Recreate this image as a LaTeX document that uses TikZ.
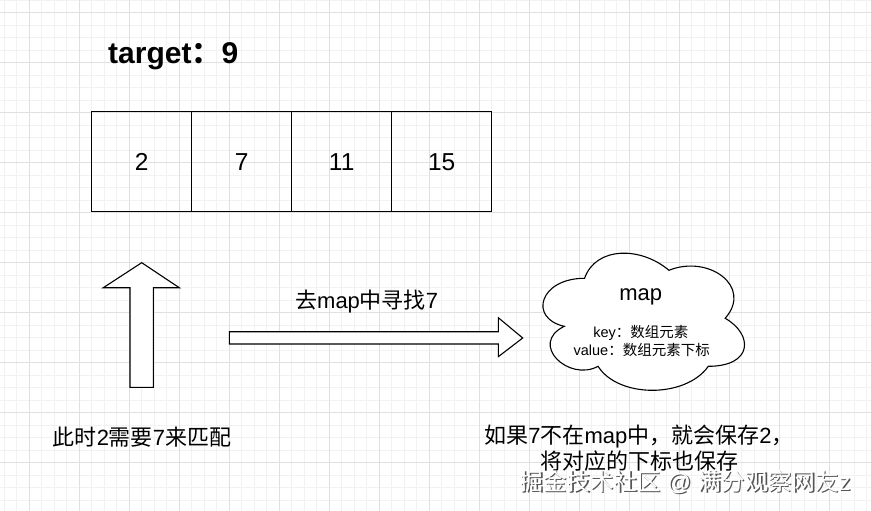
\documentclass[tikz,border=0pt]{standalone}
\usepackage{fontspec}
\setmainfont{Liberation Sans}
\newfontfamily\cjk{Noto Sans CJK SC}
\usetikzlibrary{positioning}
\definecolor{gridMinor}{HTML}{F2F2F2}
\definecolor{gridMajor}{HTML}{E0E0E0}
\definecolor{wmShade}{HTML}{555555}
\newcommand{\zh}[1]{{\cjk #1}}

\begin{document}
\begin{tikzpicture}[x=1pt,y=-1pt,
    cellbox/.style={draw,line width=1.1pt,minimum width=100pt,minimum height=100pt,inner sep=0pt,font=\fontsize{24.5}{28}\selectfont},
    bigtext/.style={anchor=base,inner sep=0pt,font=\fontsize{22}{26.5}\selectfont},
    smalltext/.style={anchor=base,inner sep=0pt,font=\fontsize{14.5}{18}\selectfont},
    marktext/.style={anchor=base,inner sep=0pt,font=\fontsize{23.5}{28}\selectfont},
    blockarrow/.style={draw,fill=white,line width=1.1pt,line join=miter}]
      \useasboundingbox (0,0) rectangle (871,511);
      \fill[white] (0,0) rectangle (871,511);
      % grid
      \foreach \i in {0,...,69} \draw[gridMinor,line width=0.8pt] ({4.3+12.5*\i},0) -- ++(0,511);
      \foreach \i in {0,...,40} \draw[gridMinor,line width=0.8pt] (0,{0.2+12.5*\i}) -- ++(871,0);
      \foreach \i in {0,...,17} \draw[gridMajor,line width=0.8pt] ({29.3+50*\i},0) -- ++(0,511);
      \foreach \i in {0,...,10} \draw[gridMajor,line width=0.8pt] (0,{12.7+50*\i}) -- ++(871,0);

      \node[anchor=base west,inner sep=0pt,font=\bfseries\fontsize{30}{34}\selectfont] (target) at (108,63.3)
        {target\zh{：}9};

      % array
      \foreach \v [count=\i] in {2,7,11,15}
        \node[cellbox] (c\i) at ({141.7+100*(\i-1)},161.7) {\v};

      % up arrow under the 2
      \draw[blockarrow] (130,387.3) -- (153.3,387.3) -- (153.3,287.7) -- (179.3,287.7)
        -- (141.7,262.7) -- (103.3,287.7) -- (130,287.7) -- cycle;
      \node[bigtext] (hint) at (142,445.7) {\zh{此时}2\zh{需要}7\zh{来匹配}};

      % arrow to the map
      \draw[blockarrow] (229.3,331.7) -- (498.3,331.7) -- (498.3,317.7) -- (522.7,338)
        -- (498.3,356.7) -- (498.3,344) -- (229.3,344) -- cycle;
      \node[bigtext] (look) at (366.7,308.3) {\zh{去}map\zh{中寻找}7};

      % cloud
      \begin{scope}[shift={(528.3,238.3)},x=225pt,y=-160pt]
        \draw[fill=white,line width=1.1pt] (0.25,0.25) .. controls (0.05,0.25) and (0,0.5) .. (0.16,0.55)
          .. controls (0,0.66) and (0.18,0.9) .. (0.31,0.8)
          .. controls (0.4,1) and (0.7,1) .. (0.8,0.8)
          .. controls (1,0.8) and (1,0.6) .. (0.875,0.5)
          .. controls (1,0.3) and (0.8,0.1) .. (0.625,0.2)
          .. controls (0.5,0.05) and (0.3,0.05) .. (0.25,0.25) -- cycle;
      \end{scope}
      \node[bigtext] (mapname) at (640.8,300) {map};
      \node[smalltext] (keyline) at (640.8,337.3) {key\zh{：数组元素}};
      \node[smalltext] (valline) at (641.7,355) {value\zh{：数组元素下标}};

      \node[bigtext,align=center] (save) at (639,469.5)
        {\zh{如果}7\zh{不在}map\zh{中，就会保存}2\zh{，}\\\zh{将对应的下标也保存}};

      % watermark
      \node[marktext,text=wmShade] (wmback) at (686.5,491.5) {\zh{掘金技术社区} @ \zh{满分观察网友}z};
      \node[marktext,text=white] (wm) at (685,490) {\zh{掘金技术社区} @ \zh{满分观察网友}z};
    \end{tikzpicture}
\end{document}
